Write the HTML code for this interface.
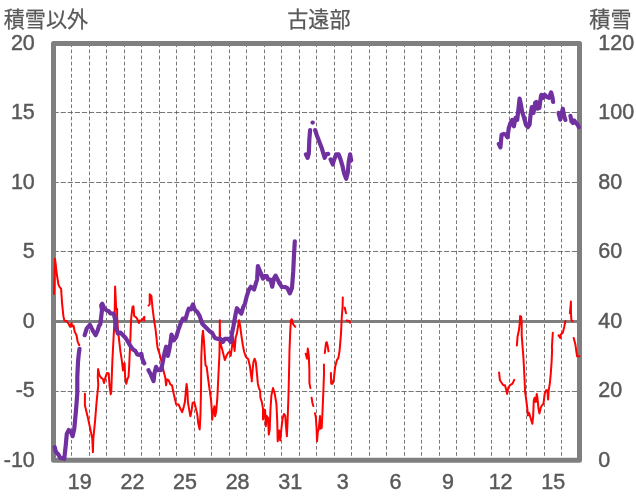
<!DOCTYPE html>
<html lang="ja"><head><meta charset="utf-8"><title>古遠部</title>
<style>
html,body{margin:0;padding:0;background:#fff;}
body{width:636px;height:501px;overflow:hidden;}
svg{display:block;will-change:transform;opacity:0.9999;}
text{font-family:"Liberation Sans","Noto Sans CJK JP",sans-serif;fill:#595959;font-size:21.5px;stroke:#595959;stroke-width:0.45px;stroke-linejoin:round;}
.jp{font-family:"Noto Sans CJK JP","Liberation Sans",sans-serif;font-size:21.1px;stroke-width:0.25px;}
</style></head><body>
<svg width="636" height="501" viewBox="0 0 636 501">
<rect width="636" height="501" fill="#fff"/>

<g stroke="#5e5e5e" stroke-width="0.85" stroke-dasharray="3.7 2.4" fill="none">
<line x1="71.50" y1="43.4" x2="71.50" y2="460.3"/>
<line x1="89.50" y1="43.4" x2="89.50" y2="460.3"/>
<line x1="106.50" y1="43.4" x2="106.50" y2="460.3"/>
<line x1="124.50" y1="43.4" x2="124.50" y2="460.3"/>
<line x1="141.50" y1="43.4" x2="141.50" y2="460.3"/>
<line x1="159.50" y1="43.4" x2="159.50" y2="460.3"/>
<line x1="176.50" y1="43.4" x2="176.50" y2="460.3"/>
<line x1="194.50" y1="43.4" x2="194.50" y2="460.3"/>
<line x1="211.50" y1="43.4" x2="211.50" y2="460.3"/>
<line x1="229.50" y1="43.4" x2="229.50" y2="460.3"/>
<line x1="246.50" y1="43.4" x2="246.50" y2="460.3"/>
<line x1="264.50" y1="43.4" x2="264.50" y2="460.3"/>
<line x1="281.50" y1="43.4" x2="281.50" y2="460.3"/>
<line x1="299.50" y1="43.4" x2="299.50" y2="460.3"/>
<line x1="316.50" y1="43.4" x2="316.50" y2="460.3"/>
<line x1="334.50" y1="43.4" x2="334.50" y2="460.3"/>
<line x1="351.50" y1="43.4" x2="351.50" y2="460.3"/>
<line x1="369.50" y1="43.4" x2="369.50" y2="460.3"/>
<line x1="386.50" y1="43.4" x2="386.50" y2="460.3"/>
<line x1="404.50" y1="43.4" x2="404.50" y2="460.3"/>
<line x1="421.50" y1="43.4" x2="421.50" y2="460.3"/>
<line x1="439.50" y1="43.4" x2="439.50" y2="460.3"/>
<line x1="456.50" y1="43.4" x2="456.50" y2="460.3"/>
<line x1="474.50" y1="43.4" x2="474.50" y2="460.3"/>
<line x1="491.50" y1="43.4" x2="491.50" y2="460.3"/>
<line x1="509.50" y1="43.4" x2="509.50" y2="460.3"/>
<line x1="526.50" y1="43.4" x2="526.50" y2="460.3"/>
<line x1="544.50" y1="43.4" x2="544.50" y2="460.3"/>
<line x1="561.50" y1="43.4" x2="561.50" y2="460.3"/>
</g><g stroke="#5e5e5e" stroke-width="0.85" stroke-dasharray="5.2 1.9" fill="none">
<line x1="53.5" y1="112.50" x2="579.5" y2="112.50"/>
<line x1="53.5" y1="182.50" x2="579.5" y2="182.50"/>
<line x1="53.5" y1="251.50" x2="579.5" y2="251.50"/>
<line x1="53.5" y1="391.50" x2="579.5" y2="391.50"/>
</g>
<line x1="53.5" y1="321.5" x2="579.5" y2="321.5" stroke="#7f7f7f" stroke-width="3"/>
<rect x="53.5" y="43.4" width="526.0" height="416.9" fill="none" stroke="#7f7f7f" stroke-width="5" stroke-linejoin="round"/>
<path d="M54.0 293.9 L55.0 258.7 L56.7 273.5 L58.4 284.4 L59.7 287.2 L61.1 288.6 L62.1 303.7 L63.4 316.2 L64.3 320.4 L66.8 321.3 L68.5 323.8 L70.1 326.8 L71.5 323.0 L72.1 326.3 L73.5 325.5 L74.8 332.2 L75.2 332.6 L76.5 335.2 L77.7 341.9 L79.3 345.2 M84.9 393.8 L84.9 405.2 L87.7 416.9 L90.2 428.6 L92.3 438.7 L92.9 452.1 L93.3 438.7 L95.0 421.9 L96.6 401.8 L98.3 385.0 L97.8 377.1 L98.1 369.0 L99.5 375.4 L101.2 377.9 L102.8 378.8 L104.0 383.0 L105.3 377.9 L107.0 372.9 L108.7 373.4 L109.5 385.5 L110.7 394.3 L111.2 392.2 L112.4 360.3 L113.7 335.2 L114.6 318.4 L115.1 286.6 L116.2 308.7 L117.1 308.7 L117.1 316.7 L117.9 328.4 L119.1 340.2 L120.5 351.9 L121.8 360.3 L123.0 370.4 L123.8 363.7 L124.6 363.3 L125.1 377.1 L126.3 383.8 L127.5 378.8 L128.5 377.1 L129.2 365.4 L130.2 343.6 L130.8 326.8 L131.3 316.7 L131.3 317.1 L132.5 307.0 L133.4 306.2 L134.2 316.2 L135.9 317.1 L137.2 318.8 L138.9 323.0 L139.7 320.4 L141.4 320.4 L143.1 318.8 L144.3 316.8 L144.3 320.4 M305.7 353.7 L307.1 358.7 L307.8 348.6 L308.8 355.4 L309.4 370.4 L309.4 382.6 L310.4 388.1 M311.6 397.7 L312.4 402.7 L313.3 406.1 M315.0 413.3 L315.8 417.0 L316.6 428.7 L317.0 441.3 L317.8 432.1 L318.8 428.7 L320.0 416.1 L320.5 428.7 L321.7 427.9 L322.5 411.9 L323.4 390.1 L324.0 373.4 L323.9 364.6 M324.8 353.0 L326.0 342.9 L326.8 342.1 L327.7 346.2 L328.5 351.3 M330.9 373.0 L331.2 383.8 L332.6 383.8 L333.9 378.4 L335.1 367.1 L336.8 360.4 L338.4 357.9 L339.6 350.3 L341.0 333.6 L341.8 316.8 L342.6 306.7 L342.8 297.6 M344.8 307.7 L346.0 313.2 M346.6 320.6 L349.5 321.1 L350.0 322.8 M516.9 345.4 L517.5 337.0 L518.9 330.3 L519.7 323.6 L520.1 316.1 L521.2 316.9 L521.7 323.6 L521.7 335.4 L522.6 347.1 L523.4 357.2 L523.9 366.8 L524.6 380.2 L525.1 391.9 L526.3 400.3 L527.3 408.7 L527.9 415.4 L529.0 412.9 L530.1 416.2 L531.3 420.4 L532.3 423.8 L533.1 417.1 L533.8 400.3 L534.6 397.8 L535.7 402.0 L536.8 393.9 L537.7 400.3 L538.5 408.7 L539.4 413.4 L540.7 407.9 L541.9 405.4 L543.5 403.7 L544.7 393.6 L546.1 390.2 L547.4 390.2 L548.1 399.5 L548.7 390.2 L549.8 383.6 L550.8 373.5 L551.6 361.7 L552.1 350.0 L551.9 347.1 L552.8 332.8 M558.6 335.4 L560.3 337.9 L560.8 334.5 L562.8 332.8 L564.2 327.0 L565.4 321.1 M569.9 313.2 L570.5 306.8 L570.9 301.5 L571.0 313.6 L571.4 320.2 L572.6 321.3 M573.7 337.9 L575.4 344.6 L576.2 350.4 L577.1 356.3 L579.6 356.3 M499.1 372.6 L499.9 380.2 L501.6 382.7 L503.3 385.2 L505.0 385.2 L506.1 389.4 L507.1 393.9 L508.3 387.7 L510.0 385.2 L512.5 383.6 L514.2 379.9 M148.5 305.6 L149.7 304.4 L149.7 294.3 L151.4 296.0 L152.4 306.9 L154.1 320.3 L155.7 330.4 L157.1 343.8 L157.7 348.4 L159.4 353.4 L161.1 360.1 L163.6 371.0 L165.3 377.7 L166.1 385.3 L167.0 379.4 L168.6 380.2 L170.3 384.4 L172.0 385.3 L173.7 393.7 L175.3 400.4 L176.2 404.6 L178.7 404.6 L180.4 408.8 L182.1 412.1 L183.7 407.1 L184.9 402.1 L185.9 390.3 L186.6 383.9 L187.4 390.3 L187.9 402.1 L189.3 410.4 L190.4 416.3 L191.6 410.4 L192.6 402.9 L194.3 402.1 L195.5 407.1 L197.2 413.8 L198.3 423.6 L199.7 429.5 L200.5 413.6 L201.0 390.1 L201.3 356.8 L202.2 337.1 L203.0 330.7 L203.9 340.4 L204.7 353.4 L205.5 365.2 L206.7 366.8 L208.1 378.6 L209.7 390.3 L211.1 400.4 L211.8 410.4 L212.2 419.7 L213.1 412.1 L214.4 406.2 L215.1 416.3 L216.1 412.1 L217.3 398.7 L218.5 373.6 L219.5 353.4 L219.8 320.3 L220.1 340.4 L221.1 345.5 L222.3 349.7 L223.2 353.4 L224.8 360.1 L226.5 355.9 L228.2 352.6 L229.9 351.7 L230.7 355.9 L231.5 350.1 L232.4 343.4 L232.9 337.1 L234.6 350.9 L235.7 337.1 L236.9 333.7 L237.9 327.0 L239.1 320.3 L240.3 327.0 L241.6 337.1 L242.9 345.5 L244.1 351.7 L245.8 356.8 L248.3 359.3 L250.0 366.8 L251.3 376.9 L252.0 381.1 L251.7 381.4 L252.4 372.1 L253.4 362.1 L254.6 358.7 L255.8 362.1 L256.8 372.1 L257.9 383.9 L258.8 387.6 L260.1 391.0 L260.4 397.7 L261.8 401.9 L263.0 408.6 L263.0 419.5 L263.8 409.4 L265.1 410.2 L265.8 426.2 L266.8 416.1 L268.0 417.8 L268.8 434.6 L269.7 429.5 L270.5 408.6 L271.4 395.2 L273.0 388.1 L274.7 393.5 L276.4 403.6 L277.2 420.3 L277.7 441.3 L279.2 430.4 L280.2 440.4 L281.4 428.7 L282.6 418.6 L283.9 413.9 L285.3 416.1 L285.9 425.4 L286.9 436.2 L287.6 420.3 L288.5 395.2 L289.1 370.0 L289.5 350.3 L290.3 330.2 L291.0 320.1 L291.8 319.3 L293.2 324.3 L295.3 326.8" fill="none" stroke="#ff0000" stroke-width="2" stroke-linejoin="round" stroke-linecap="round"/>
<path d="M54.7 447.1 L55.9 452.1 L58.4 454.6 L60.4 458.0 L64.3 458.8 L65.9 443.7 L66.8 433.7 L68.8 430.0 L71.0 432.0 L72.6 436.2 L74.3 428.6 L76.0 410.2 L77.3 393.4 L77.3 377.1 L78.0 362.0 L78.8 353.6 L79.5 348.9 M84.7 335.2 L86.6 328.8 L88.2 326.8 L89.9 324.8 L91.6 328.1 L93.3 331.5 L95.6 335.2 L97.8 330.1 L99.0 325.9 L100.3 324.3 L101.2 316.7 L102.0 310.0 L101.2 305.4 L102.3 303.7 L104.0 307.9 L106.2 310.1 L108.7 311.2 L110.4 313.4 L113.7 313.7 L115.4 320.4 L116.2 328.4 L117.9 333.5 L120.5 332.6 L123.0 335.2 L125.5 337.7 L128.0 341.9 L130.5 346.1 L133.0 349.4 L135.5 351.1 L137.2 354.4 L139.7 354.9 L141.4 353.9 L142.2 358.6 L144.3 363.3 M305.9 154.4 L307.6 157.8 L308.8 153.6 L309.3 140.2 L310.1 130.1 M312.5 122.6 L312.8 122.6 M315.2 130.1 L316.8 135.2 L319.4 141.9 L321.9 148.6 L323.6 154.4 L324.7 157.8 L326.1 154.4 L328.2 153.9 M330.6 159.5 L332.8 164.5 L333.9 160.3 L336.1 154.4 L338.6 154.4 L340.3 158.6 L342.3 165.3 L344.0 172.9 L346.2 178.8 L347.9 172.1 L348.7 162.0 L350.1 154.4 L351.2 160.3 M498.8 143.9 L500.4 147.3 L501.6 134.7 L503.8 133.9 L505.8 134.7 L507.5 137.2 L508.8 128.0 L510.5 123.0 L512.2 119.9 L513.9 126.3 L515.5 117.9 L517.2 119.9 L518.4 109.5 L519.6 98.6 L520.9 104.5 L522.2 112.1 L523.9 117.1 L525.9 124.6 L527.9 127.2 L529.6 124.6 L530.6 114.6 L531.8 107.0 L533.5 112.9 L535.2 102.8 L536.3 102.0 L537.7 108.7 L539.4 107.9 L540.7 97.8 L541.4 94.8 L543.0 97.8 L544.7 94.8 L546.9 97.0 L549.1 97.8 L551.1 92.4 L552.4 97.0 L553.1 102.0 M558.6 112.9 L560.3 119.6 L561.5 114.6 L562.8 108.7 L564.2 116.2 L565.4 119.9 M570.4 115.9 L571.5 121.3 L572.9 123.0 L574.2 120.5 L575.9 123.0 L577.6 124.6 L578.8 127.2 M148.5 370.2 L150.7 374.4 L153.6 381.1 L154.4 373.6 L156.1 366.8 L157.7 370.2 L161.1 370.2 L162.8 361.8 L164.4 353.4 L166.1 346.7 L167.8 355.9 L169.2 350.1 L170.3 343.4 L171.5 334.6 L173.7 340.4 L176.2 337.1 L178.7 328.7 L181.2 322.0 L182.9 318.6 L185.4 319.5 L187.6 311.9 L188.8 308.6 L190.9 309.4 L193.0 304.4 L194.6 309.4 L197.2 311.9 L199.7 316.1 L202.2 323.7 L204.7 326.2 L207.2 328.7 L209.7 331.2 L212.2 332.9 L214.8 337.9 L217.3 338.8 L220.6 338.8 L222.8 342.1 L224.8 338.8 L228.2 338.8 L230.7 342.1 L231.9 333.7 L233.6 325.4 L235.7 313.6 L236.9 308.2 L239.1 311.1 L241.3 313.6 L243.3 306.9 L245.0 303.6 L246.6 296.8 L248.7 290.1 L250.8 286.8 L252.4 287.9 L254.1 289.5 L255.8 283.7 L257.1 279.5 L257.9 266.1 L259.6 270.2 L261.3 274.4 L263.0 278.6 L264.6 276.1 L266.8 276.1 L268.0 279.5 L270.5 279.5 L272.2 286.7 L273.9 278.6 L275.6 275.6 L277.6 279.5 L279.7 283.7 L281.9 287.0 L284.8 287.0 L287.3 287.9 L289.8 293.4 L292.0 287.9 L293.2 271.9 L294.0 255.2 L294.8 241.4" fill="none" stroke="#7030a0" stroke-width="4.2" stroke-linejoin="round" stroke-linecap="round"/>
<text class="jp" x="3.7" y="26.8">積雪以外</text>
<text class="jp" x="318.9" y="26.8" text-anchor="middle">古遠部</text>
<text class="jp" x="589.3" y="26.8">積雪</text>
<text x="34.8" y="49.9" text-anchor="end">20</text>
<text x="34.8" y="119.3" text-anchor="end">15</text>
<text x="34.8" y="188.8" text-anchor="end">10</text>
<text x="34.8" y="258.2" text-anchor="end">5</text>
<text x="34.8" y="327.7" text-anchor="end">0</text>
<text x="34.8" y="397.1" text-anchor="end">-5</text>
<text x="34.8" y="466.6" text-anchor="end">-10</text>
<text x="598.3" y="466.6">0</text>
<text x="598.3" y="397.1">20</text>
<text x="598.3" y="327.7">40</text>
<text x="598.3" y="258.2">60</text>
<text x="598.3" y="188.8">80</text>
<text x="598.3" y="119.3">100</text>
<text x="598.3" y="49.9">120</text>
<text x="79.8" y="488.8" text-anchor="middle">19</text>
<text x="132.4" y="488.8" text-anchor="middle">22</text>
<text x="185.0" y="488.8" text-anchor="middle">25</text>
<text x="237.6" y="488.8" text-anchor="middle">28</text>
<text x="290.2" y="488.8" text-anchor="middle">31</text>
<text x="342.8" y="488.8" text-anchor="middle">3</text>
<text x="395.4" y="488.8" text-anchor="middle">6</text>
<text x="448.0" y="488.8" text-anchor="middle">9</text>
<text x="500.6" y="488.8" text-anchor="middle">12</text>
<text x="553.2" y="488.8" text-anchor="middle">15</text>
</svg></body></html>
